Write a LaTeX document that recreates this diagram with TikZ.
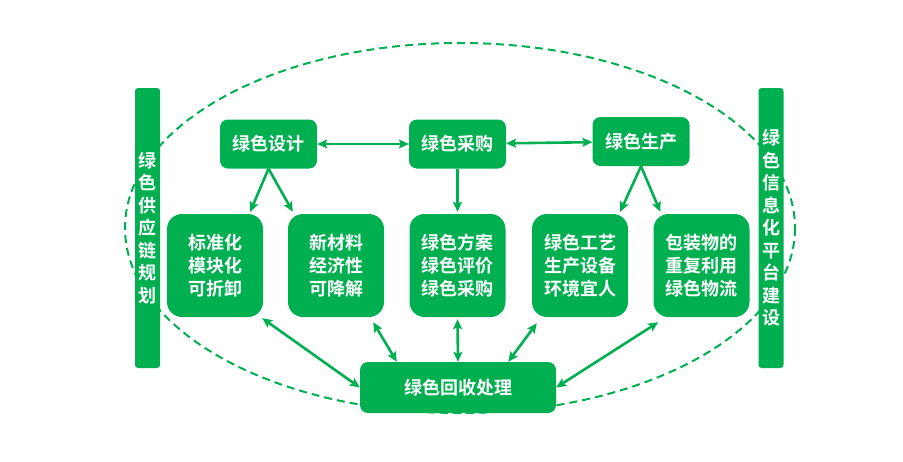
\documentclass[tikz,border=0pt]{standalone}
\usepackage{fontspec}
\newfontfamily\cjk{Noto Sans CJK SC}[BoldFont={Noto Sans CJK SC Bold}]
\usetikzlibrary{calc}
\usetikzlibrary{arrows.meta,shapes,positioning}
\definecolor{lvse}{RGB}{0,176,80}
\tikzset{>={Stealth[length=10pt,width=9pt,inset=2pt]}}
\tikzset{
  zi/.style={text=white,font=\cjk\bfseries\fontsize{18}{23}\selectfont},
  topbox/.style={zi,fill=lvse,rounded corners=8pt,minimum width=97pt,minimum height=49pt,inner sep=0pt},
  midbox/.style={topbox,rounded corners=15pt,minimum width=96pt,minimum height=103pt,align=center},
  sidebar/.style={zi,fill=lvse,rounded corners=3pt,minimum width=25pt,minimum height=280pt,inner sep=0pt,align=center,font=\cjk\bfseries\fontsize{18}{22.5}\selectfont},
  link/.style={draw=lvse,line width=2.6pt,<->},
  push/.style={draw=lvse,line width=2.6pt,->},
}

\begin{document}
\begin{tikzpicture}[x=1pt,y=-1pt]
        \useasboundingbox (0,0) rectangle (903,461);
        % dashed ring behind everything
        \draw [lvse,line width=2pt,dash pattern=on 8pt off 5pt] (460,228) ellipse [x radius=335,y radius=185];
        % side bars
        \node [sidebar] (guihua) at (147.5,228) {绿\\色\\供\\应\\链\\规\\划};
        \node [sidebar] (xinxi) at (771,228) {绿\\色\\信\\息\\化\\平\\台\\建\\设};
        % top row
        \node [topbox] (sheji) at (268.5,144) {绿色设计};
        \node [topbox] (caigou) at (457.5,144) {绿色采购};
        \node [topbox] (shengchan) at (641,141.5) {绿色生产};
        % middle row
        \node [midbox] (biaozhun) at (215,265.5) {标准化\\模块化\\可折卸};
        \node [midbox] (xincailiao) at (336,265.5) {新材料\\经济性\\可降解};
        \node [midbox] (fangan) at (457.5,265.5) {绿色方案\\绿色评价\\绿色采购};
        \node [midbox] (gongyi) at (580,265.5) {绿色工艺\\生产设备\\环境宜人};
        \node [midbox] (baozhuang) at (701.5,265.5) {包装物的\\重复利用\\绿色物流};
        % bottom
        \node [topbox,minimum width=196pt,minimum height=51pt] (huishou) at (458,387.5) {绿色回收处理};
        % arrows
        \draw [link] (sheji) -- (caigou);
        \draw [link] (caigou) -- (shengchan);
        \draw [push] (sheji.south) -- ($(biaozhun.north east)+(-13,-2)$);
        \draw [push] (sheji.south) -- ($(xincailiao.north west)+(5,-2)$);
        \draw [push] (caigou.south) -- ($(fangan.north)+(0,-2)$);
        \draw [push] (shengchan.south) -- ($(gongyi.north east)+(-8,-2)$);
        \draw [push] (shengchan.south) -- ($(baozhuang.north west)+(7,-2)$);
        \draw [link] (huishou.west) -- ($(biaozhun.south east)+(-1,1)$);
        \draw [link] ($(huishou.north west)+(37,0)$) -- ($(xincailiao.south east)+(-11,5)$);
        \draw [link] (huishou.north) -- ($(fangan.south)+(0,2)$);
        \draw [link] ($(huishou.north east)+(-48,0)$) -- ($(gongyi.south west)+(5,6)$);
        \draw [link] (huishou.east) -- ($(baozhuang.south west)+(5,5)$);
      \end{tikzpicture}
\end{document}
